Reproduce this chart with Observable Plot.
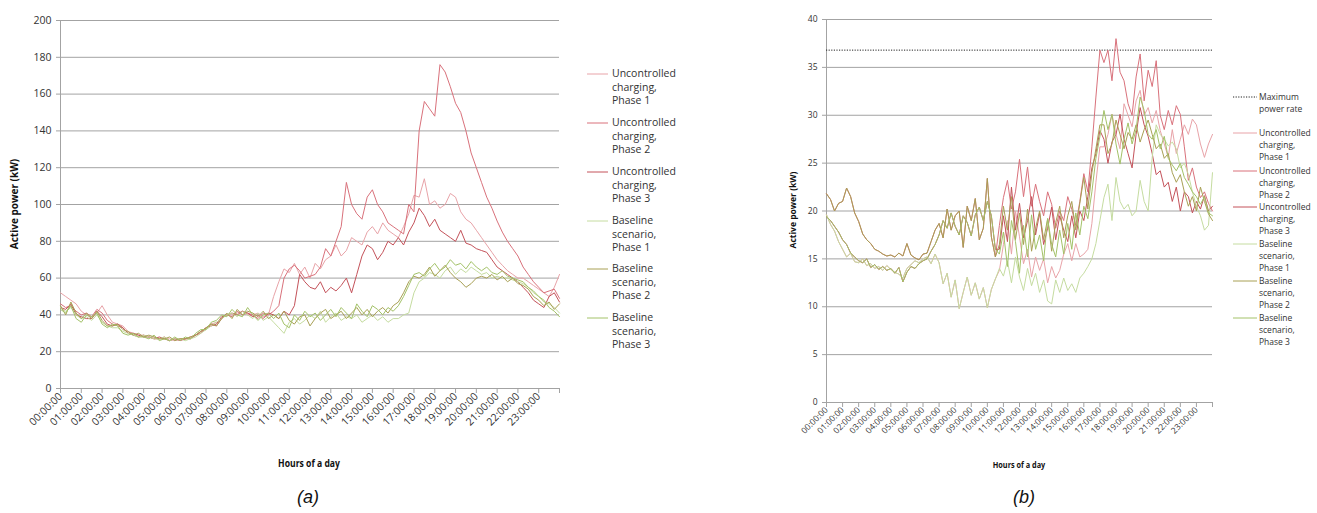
<!DOCTYPE html>
<html><head><meta charset="utf-8">
<script src="https://cdn.jsdelivr.net/npm/d3@7"></script>
<script src="https://cdn.jsdelivr.net/npm/@observablehq/plot@0.6"></script>
<style>
body{margin:0;background:#fff;}
#root{position:relative;width:1317px;height:513px;overflow:hidden;font-family:"Open Sans",sans-serif;color:#222;}
.abs{position:absolute;}
.ytitle{position:absolute;font-weight:bold;white-space:nowrap;transform:translate(-50%,-50%) rotate(-90deg);color:#111;}
.xtitle{position:absolute;font-weight:bold;white-space:nowrap;transform:translate(-50%,-50%) scaleX(0.86);color:#111;}
.cap{position:absolute;font-family:"Liberation Sans",Arial,sans-serif;font-style:italic;font-size:18px;transform:translate(-50%,-50%);color:#111;}
.leg{position:absolute;white-space:nowrap;color:#333;}
.leg svg{position:absolute;}
</style></head>
<body><div id="root"></div>
<script>
// ---------- shared ----------
const xTickHours = [0,1,2,3,4,5,6,7,8,9,10,11,12,13,14,15,16,17,18,19,20,21,22,23,24];
const xTickLabels = ["00:00:00","01:00:00","02:00:00","03:00:00","04:00:00","05:00:00","06:00:00","07:00:00","08:00:00","09:00:00","10:00:00","11:00:00","12:00:00","13:00:00","14:00:00","15:00:00","16:00:00","17:00:00","18:00:00","19:00:00","20:00:00","21:00:00","22:00:00","23:00:00"];
const timeSteps = d3.range(97).map(i => i / 4); // 15-minute samples, hours
const seriesNames = ["Uncontrolled charging, Phase 1","Uncontrolled charging, Phase 2","Uncontrolled charging, Phase 3","Baseline scenario, Phase 1","Baseline scenario, Phase 2","Baseline scenario, Phase 3"];
const seriesColors = ["#e8a3a8","#d9717b","#c4525a","#c5dca0","#a8a055","#a3c268"];

// ---------- panel (a) ----------
const yTicksA = [0,20,40,60,80,100,120,140,160,180,200];
const a_unc1 = [52,50,48,46,42,40,38,41,45,40,36,35,34, 31,30,29,29,28,28,27,27,27,26,27,27, 28,29,31,32,35,36,38,40,40,41,42,40,40,41,39,40, 50,58,65,63,68,62,66,60,68,65,70,72, 78,72,75,82,80,78,85,88,84,90,86,84, 82,88,95,105, 104,114,100,102,98,100,106,104,96,92,90,86, 82,78,74,70,67,64,62,60, 60,58,56,54,52,50,55,62];
const a_unc2 = [46,44,45,42,40,41,39,43,41,37,35,34,33, 30,29,28,29,28,27,27,28,26,27,27,27, 28,29,30,33,35,34,38,40,39,42,40,41,40,38,41,40, 42,45,60,65,67,64,60,61,62,66,76,72, 80,88,112,100,95,92,104,108,100,96,90,88, 86,84,100,96, 140,156,152,148,176,172,164,155,150,140,128,120, 112,104,98,91,85,80,76,72, 66,62,58,55,52,53,54,49];
const a_unc3 = [44,43,46,40,39,38,38,42,39,35,34,35,33, 30,30,29,28,28,27,28,27,26,27,26,27, 27,29,31,33,34,35,39,40,41,40,42,41,39,40,38,41, 40,38,42,40,45,62,58,55,54,58,52,55, 53,56,60,52,62,72,78,76,70,74,80,78, 82,78,85,90, 98,94,88,92,86,84,82,80,86,79,78,76, 75,74,70,66,64,62,60,58, 55,52,48,46,44,50,52,47];
const a_base1 = [44,42,44,40,38,39,37,40,36,34,33,33,31, 30,29,28,29,28,27,27,28,26,27,27,26, 27,28,30,32,34,36,38,40,41,39,42,40,38,41,37,39, 36,33,30,36,38,35,37,40,38,42,36,39, 41,37,39,38,40,36,38,40,37,39,36,38, 38,40,41,52, 58,60,63,62,60,64,66,62,65,63,66,64, 62,63,60,61,60,60,59,58, 57,55,52,50,47,46,44,41];
const a_base2 = [45,40,47,41,38,41,38,42,37,34,34,35,32, 31,29,30,28,29,28,27,27,28,26,27,27, 28,29,31,33,35,34,38,41,38,43,40,42,41,39,42,38, 40,38,42,37,35,39,40,34,38,41,43,38, 40,42,38,41,44,40,43,39,42,44,41,45, 47,52,58,61, 60,62,66,61,64,67,63,60,58,55,57,60, 61,60,62,59,61,58,60,57, 56,54,50,48,45,47,43,46];
const a_base3 = [43,41,45,38,36,40,39,41,35,33,35,34,30, 29,30,28,28,27,29,26,27,26,28,26,28, 27,30,32,32,36,37,40,39,43,40,39,44,40,37,40,41, 38,41,35,33,40,37,42,39,41,37,40,43, 39,44,41,38,46,42,39,45,43,40,44,42, 45,50,56,62, 63,61,65,68,64,66,70,67,68,65,69,66, 64,66,63,62,64,61,60,59, 58,55,53,50,48,44,42,39];

// ---------- panel (b) ----------
const yTicksB = [0,5,10,15,20,25,30,35,40];
const maxPowerRate = 36.8;
const b_early1 = [19.6,18.6,17.9,16.8,16.0,15.2,15.6,14.7,14.6,15.0,14.3,14.5,14.0,14.2,13.8,14.3,13.9,13.6,13.4,13.0,14.0,14.4,14.8,14.6,15.0, 15.2,14.5,15.5,14.6,12.4,13.5,11.0,12.8,9.8,11.5,13.1,11.2,12.5,10.8,12.0,9.9,11.8,12.9];
const b_early2 = [21.8,21.2,20.0,20.8,21.0,22.4,21.5,19.8,18.9,17.6,17.0,16.6,16.0,15.8,15.5,15.3,15.4,15.2,15.6,15.3,16.6,15.4,15.1,14.9,15.5, 15.6,16.8,18.0,18.7,17.2,20.2,18.0,19.5,20.0,16.2,20.5,19.0,21.3,17.0,18.2,23.4,17.3,15.2];
const b_early3 = [19.4,19.0,18.4,17.8,17.0,16.5,15.6,15.2,14.8,14.6,15.0,14.1,14.4,13.9,14.2,13.8,14.0,13.5,14.1,12.6,13.6,14.2,14.0,14.5,14.8, 15.0,15.8,16.5,17.5,19.0,18.2,19.8,18.4,17.5,19.5,18.8,17.4,19.6,20.4,19.0,21.0,19.5,16.0];
const b_unc1_late = [13.8,16.5,19.0,15.5,20.0,17.3,14.5,16.0,13.1,15.2,13.8,15.0,12.5,14.2,13.0,13.8,15.5,16.6,14.8,16.6,15.2,15.5,16.0,18.7,23.0,26.7, 26.7,28.0,30.1,28.0,26.5,31.2,30.0,28.8,31.5,32.6,30.0,30.8,29.2,30.5,28.4,27.0,25.6,28.5,26.0,27.5,29.0,28.0,29.6,29.0,27.0,25.6,27.0,28.0];
const b_unc2_late = [18.5,21.4,23.2,20.2,22.0,25.4,21.5,24.6,20.5,22.8,21.0,19.5,22.0,20.7,18.2,20.0,19.0,21.5,20.2,18.5,21.0,23.9,22.0,26.7,31.9,36.8, 35.5,36.8,33.6,38.0,34.5,33.6,31.2,30.0,34.0,36.4,31.5,34.7,33.0,35.7,30.0,28.5,30.5,29.0,31.0,30.1,26.7,23.2,24.5,22.5,21.4,22.0,20.8,20.0];
const b_unc3_late = [16.0,19.5,16.8,22.5,18.0,20.8,17.2,19.0,21.5,17.5,19.8,16.5,18.2,20.4,17.0,19.5,18.0,16.8,19.5,17.2,20.0,19.0,21.5,24.5,26.0,28.4, 27.5,25.0,27.2,28.0,30.1,27.5,26.0,24.5,28.0,30.8,29.0,27.8,26.0,23.8,24.2,22.5,23.0,21.0,22.5,20.0,22.0,21.5,19.8,21.0,20.2,21.6,20.0,20.5];
const b_base1_late = [14.0,13.2,14.8,12.5,15.2,13.1,11.7,14.0,12.2,13.5,11.5,12.8,10.6,10.3,12.8,11.5,13.0,11.7,12.4,11.5,13.0,13.5,14.2,15.0,16.6,19.0, 21.4,22.8,19.0,23.5,21.0,20.2,20.7,19.5,20.0,23.2,21.0,20.0,25.6,29.0,28.0,27.5,26.8,27.2,26.5,24.5,25.0,23.8,22.0,20.5,19.5,18.0,18.5,24.0];
const b_base2_late = [16.5,20.5,18.0,21.5,17.0,19.8,16.5,20.2,15.8,18.2,20.0,17.0,19.2,15.8,18.8,20.5,17.2,19.5,21.0,18.0,20.8,23.5,20.2,24.0,26.5,29.0, 29.0,26.0,27.0,29.5,28.0,26.5,28.2,27.5,29.0,27.2,28.5,29.5,28.0,26.5,27.0,25.5,26.0,24.0,23.0,23.8,22.0,20.5,21.5,20.0,22.5,21.0,19.7,19.0];
const b_base3_late = [15.5,17.8,14.2,19.0,16.8,13.5,18.5,15.2,19.6,16.0,17.5,14.8,19.2,16.5,15.2,18.0,15.5,18.7,16.0,19.8,17.5,20.5,19.2,22.0,25.5,27.8, 30.5,28.5,30.1,27.0,24.9,27.5,29.2,27.0,28.5,31.9,30.5,28.0,27.5,28.5,26.5,27.8,25.5,24.8,24.2,25.0,23.5,22.8,22.0,21.5,20.7,21.5,19.8,19.5];

// ---------- build rows ----------
function rows(arrays) {
  const out = [];
  arrays.forEach((arr, k) => arr.forEach((v, i) => out.push({h: timeSteps[i], v, s: seriesNames[k]})));
  return out;
}
const seriesA = [a_unc1, a_unc2, a_unc3, a_base1, a_base2, a_base3];
const seriesB = [
  [...b_early1, ...b_unc1_late], [...b_early2, ...b_unc2_late], [...b_early3, ...b_unc3_late],
  [...b_early1, ...b_base1_late], [...b_early2, ...b_base2_late], [...b_early3, ...b_base3_late]
];
const rowsA = rows(seriesA), rowsB = rows(seriesB);
const isUnc = d => d.s.startsWith("Uncontrolled");
const gridColor = "#a3a3a3";

function panel({w, h, ml, mr, mt, mb, yDomain, yTicks, fontSize, data, extra = []}) {
  return Plot.plot({
    width: w, height: h, marginLeft: ml, marginRight: mr, marginTop: mt, marginBottom: mb,
    x: {domain: [0, 24]},
    y: {domain: yDomain},
    color: {domain: seriesNames, range: seriesColors},
    style: {fontFamily: "Open Sans", fontSize: fontSize, background: "transparent", color: "#333", overflow: "visible"},
    marks: [
      Plot.ruleY(yTicks.filter(d => d > 0), {stroke: gridColor, strokeWidth: 1}),
      Plot.ruleY([0], {stroke: gridColor}),
      Plot.ruleX([0], {stroke: gridColor}),
      Plot.axisY({ticks: yTicks, tickSize: 4, tickPadding: 5, stroke: gridColor, fill: "#333", label: null}),
      Plot.axisX({ticks: xTickHours, tickSize: 5, tickPadding: 1, tickRotate: -45, stroke: gridColor, fill: "#333",
                  tickFormat: d => xTickLabels[d] ?? "", label: null}),
      ...extra,
      Plot.line(data.filter(isUnc), {x: "h", y: "v", z: "s", stroke: "s", strokeWidth: 1}),
      Plot.line(data.filter(d => !isUnc(d)), {x: "h", y: "v", z: "s", stroke: "s", strokeWidth: 1})
    ]
  });
}

const root = document.getElementById("root");
const chartA = panel({w: 570, h: 470, ml: 60, mr: 11, mt: 20, mb: 82, yDomain: [0, 200], yTicks: yTicksA, fontSize: "10.5px", data: rowsA});
chartA.style.position = "absolute"; chartA.style.left = "0px"; chartA.style.top = "0px";
root.appendChild(chartA);

const chartB = panel({w: 460, h: 470, ml: 66, mr: 8, mt: 19, mb: 68, yDomain: [0, 40], yTicks: yTicksB, fontSize: "8.5px", data: rowsB,
  extra: [Plot.ruleY([maxPowerRate], {stroke: "#222", strokeWidth: 1, strokeDasharray: "1.2,1.4"})]});
chartB.style.position = "absolute"; chartB.style.left = "760px"; chartB.style.top = "0px";
root.appendChild(chartB);

// ---------- titles ----------
function addDiv(cls, text, x, y, size) {
  const d = document.createElement("div");
  d.className = cls; d.textContent = text;
  d.style.left = x + "px"; d.style.top = y + "px";
  if (size) d.style.fontSize = size;
  root.appendChild(d);
}
addDiv("ytitle", "Active power (kW)", 14, 204, "10px");
addDiv("xtitle", "Hours of a day", 309, 463, "10px");
addDiv("ytitle", "Active power (kW)", 792, 210, "8.5px");
addDiv("xtitle", "Hours of a day", 1019, 464, "8.5px");
addDiv("cap", "(a)", 308, 497);
addDiv("cap", "(b)", 1024, 497);

// ---------- legends ----------
const legendLinesA = [["Uncontrolled","charging,","Phase 1"],["Uncontrolled","charging,","Phase 2"],["Uncontrolled","charging,","Phase 3"],["Baseline","scenario,","Phase 1"],["Baseline","scenario,","Phase 2"],["Baseline","scenario,","Phase 3"]];
const legendLinesB = [["Maximum","power rate"], ...legendLinesA];
function legendItem(lines, color, dashed, x0, x1, tx, y, fs, lh) {
  const d = document.createElement("div");
  d.className = "leg";
  d.style.left = tx + "px"; d.style.top = (y - lh / 2) + "px";
  d.style.fontSize = fs; d.style.lineHeight = lh + "px";
  d.innerHTML = lines.join("<br>");
  root.appendChild(d);
  const s = document.createElementNS("http://www.w3.org/2000/svg", "svg");
  s.setAttribute("width", x1 - x0 + 2); s.setAttribute("height", 4);
  s.style.position = "absolute"; s.style.left = x0 + "px"; s.style.top = (y - 2) + "px";
  s.innerHTML = `<line x1="0" x2="${x1 - x0}" y1="2" y2="2" stroke="${color}" stroke-width="1" ${dashed ? 'stroke-dasharray="1.2,1.4"' : ""}/>`;
  root.appendChild(s);
}
const legYA = [74, 123, 172, 221, 269, 318];
legendLinesA.forEach((l, i) => legendItem(l, seriesColors[i], false, 587, 608, 612, legYA[i], "10.5px", 13.3));
const legYB = [97, 133, 171, 207, 244, 281, 318];
legendLinesB.forEach((l, i) => legendItem(l, i === 0 ? "#222" : seriesColors[i - 1], i === 0, 1233, 1257, 1259, legYB[i], "8.5px", 11.7));
</script></body></html>
